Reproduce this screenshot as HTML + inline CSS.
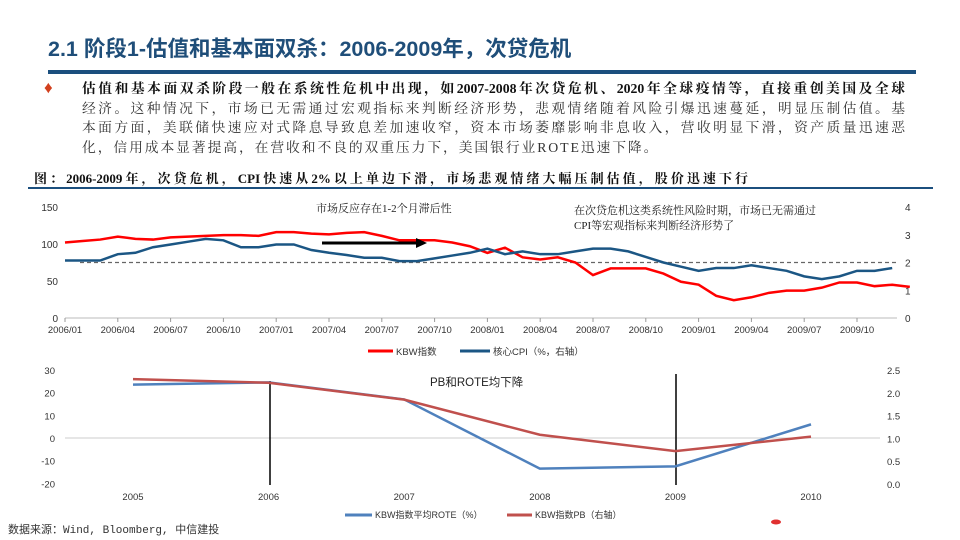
<!DOCTYPE html>
<html><head><meta charset="utf-8"><style>
body{margin:0;background:#fff;}
#page{position:relative;width:960px;height:540px;overflow:hidden;background:#fff;font-family:"Liberation Sans","Noto Sans CJK SC",sans-serif;}
.abs{position:absolute;white-space:nowrap;}
.pl{display:block;width:823px;text-align:justify;text-align-last:justify;height:19.5px;}
</style></head><body>
<div id="page">
<div class="abs" style="left:48px;top:32px;font-size:21.5px;font-weight:bold;color:#1F4E79;">2.1 阶段1-估值和基本面双杀：2006-2009年，次贷危机</div>
<div class="abs" style="left:48px;top:70px;width:868px;height:4px;background:#1B4F7E;"></div>
<div class="abs" style="left:44px;top:78px;font-size:17px;color:#D2401E;">♦</div>
<div class="abs" style="left:82px;top:79px;font-size:13.8px;line-height:19.5px;color:#333;font-family:'Liberation Serif','Noto Serif CJK SC',serif;">
<span class="pl" style="font-weight:bold;color:#111">估值和基本面双杀阶段一般在系统性危机中出现，如2007-2008年次贷危机、2020年全球疫情等，直接重创美国及全球</span><span class="pl">经济。这种情况下，市场已无需通过宏观指标来判断经济形势，悲观情绪随着风险引爆迅速蔓延，明显压制估值。基</span><span class="pl">本面方面，美联储快速应对式降息导致息差加速收窄，资本市场萎靡影响非息收入，营收明显下滑，资产质量迅速恶</span><span style="display:block;letter-spacing:1.9px">化，信用成本显著提高，在营收和不良的双重压力下，美国银行业ROTE迅速下降。</span></div>
<div class="abs" style="left:34px;top:168px;width:714px;text-align:justify;text-align-last:justify;font-size:13px;font-weight:bold;color:#111;font-family:'Liberation Serif','Noto Serif CJK SC',serif;">图：2006-2009年，次贷危机，CPI快速从2%以上单边下滑，市场悲观情绪大幅压制估值，股价迅速下行</div>
<div class="abs" style="left:28px;top:187px;width:905px;height:2px;background:#1B4F7E;"></div>
<div class="abs" style="left:8px;top:521px;font-size:11px;color:#333;font-family:'Liberation Mono','Noto Sans CJK SC',monospace;">数据来源：Wind, Bloomberg, 中信建投</div>
<svg id="chart" width="960" height="540" style="position:absolute;left:0;top:0"></svg>
</div>
<script>
const months=["2006/01","2006/04","2006/07","2006/10","2007/01","2007/04","2007/07","2007/10","2008/01","2008/04","2008/07","2008/10","2009/01","2009/04","2009/07","2009/10"];
const kbw=[102,104,106,110,107,106,109,110,111,112,112,111,116,116,114,113,115,116,111,105,105,105,102,97,88,95,82,79,82,75,58,67,67,67,60,49,45,30,24,28,34,37,37,41,48,48,43,45,42];
const cpi=[2.07,2.07,2.07,2.3,2.35,2.55,2.65,2.75,2.85,2.8,2.55,2.55,2.65,2.65,2.45,2.35,2.27,2.17,2.17,2.05,2.05,2.15,2.25,2.35,2.5,2.3,2.4,2.3,2.3,2.4,2.5,2.5,2.4,2.2,2.0,1.85,1.7,1.8,1.8,1.9,1.8,1.7,1.5,1.4,1.5,1.7,1.7,1.8];
const leftTicks=[0,50,100,150];
const rightTicks=[0,1,2,3,4];
const years=["2005","2006","2007","2008","2009","2010"];
const rote=[23.5,24.5,17,-13.5,-12.5,6];
const pb=[2.3,2.22,1.85,1.08,0.72,1.04];
const roteTicks=[-20,-10,0,10,20,30];
const pbTicks=["0.0","0.5","1.0","1.5","2.0","2.5"];
const svg=document.getElementById('chart');const NS='http://www.w3.org/2000/svg';
function mk(t,a,p){const e=document.createElementNS(NS,t);for(const k in a)e.setAttribute(k,a[k]);(p||svg).appendChild(e);return e;}
function txt(x,y,s,a){const e=mk('text',Object.assign({x:x,y:y,'font-size':10,fill:'#333','font-family':'Liberation Sans, Noto Sans CJK SC, sans-serif'},a||{}));e.textContent=s;return e;}
const tx=i=>65+i*17.6, ty=v=>318-v*0.74, tyr=v=>318-v*27.75;
mk('line',{x1:65,y1:318,x2:897,y2:318,stroke:'#bbb'});
months.forEach((m,i)=>{const x=tx(i*3);const l=mk('line',{x1:x,y1:318,x2:x,y2:322,stroke:'#999'});
const t=txt(x,333,m,{'text-anchor':'middle','font-size':9.5});});
leftTicks.forEach(v=>{const t=txt(58,ty(v)+4,String(v),{'text-anchor':'end'});});
rightTicks.forEach(v=>{const t=txt(905,tyr(v)+4,String(v));});
const dash=mk('line',{x1:80,y1:tyr(2),x2:897,y2:tyr(2),stroke:'#666','stroke-dasharray':'4,3','stroke-width':1.3});

const kl=mk('polyline',{points:kbw.map((v,i)=>tx(i)+','+ty(v)).join(' '),fill:'none',stroke:'#FF0000','stroke-width':2.5});

const cl=mk('polyline',{points:cpi.map((v,i)=>tx(i)+','+tyr(v)).join(' '),fill:'none',stroke:'#1B5684','stroke-width':2.5});

const ar=mk('line',{x1:322,y1:243,x2:418,y2:243,stroke:'#000','stroke-width':3});
mk('polygon',{points:'416,238 427,243 416,248',fill:'#000'});
const sf="Liberation Serif, Noto Serif CJK SC, serif";
let a1=txt(316,212,'市场反应存在1-2个月滞后性',{'font-size':11,fill:'#222','font-family':sf});
let a2=txt(574,214,'在次贷危机这类系统性风险时期，市场已无需通过',{'font-size':11,fill:'#222','font-family':sf});
let a3=txt(574,229,'CPI等宏观指标来判断经济形势了',{'font-size':11,fill:'#222','font-family':sf});
mk('line',{x1:368,y1:351,x2:393,y2:351,stroke:'#FF0000','stroke-width':3});
let l1=txt(396,355,'KBW指数',{'font-size':9.5});
mk('line',{x1:460,y1:351,x2:490,y2:351,stroke:'#1B5684','stroke-width':3});
let l2=txt(493,355,'核心CPI（%，右轴）',{'font-size':9.5});
const bx=i=>133+i*135.6, by=v=>438-v*2.27, byr=v=>484-v*45.6;
mk('line',{x1:65,y1:438,x2:880,y2:438,stroke:'#ccc'});
years.forEach((y,i)=>{const t=txt(bx(i),500,y,{'text-anchor':'middle','font-size':9.5});});
roteTicks.forEach(v=>{const t=txt(55,by(v)+4,String(v),{'text-anchor':'end','font-size':9.5});});
pbTicks.forEach(v=>{const t=txt(887,byr(parseFloat(v))+4,v,{'font-size':9.5});});
const v1=mk('line',{x1:270,y1:381,x2:270,y2:485,stroke:'#000','stroke-width':1.5});
const v2=mk('line',{x1:676,y1:374,x2:676,y2:485,stroke:'#000','stroke-width':1.5});
const rl=mk('polyline',{points:rote.map((v,i)=>bx(i)+','+by(v)).join(' '),fill:'none',stroke:'#4F81BD','stroke-width':2.5});

const pl=mk('polyline',{points:pb.map((v,i)=>bx(i)+','+byr(v)).join(' '),fill:'none',stroke:'#C0504D','stroke-width':2.5});

let a4=txt(430,386,'PB和ROTE均下降',{'font-size':11.5,fill:'#222'});
mk('line',{x1:345,y1:515,x2:372,y2:515,stroke:'#4F81BD','stroke-width':3});
let l3=txt(375,518,'KBW指数平均ROTE（%）',{'font-size':9});
mk('line',{x1:507,y1:515,x2:532,y2:515,stroke:'#C0504D','stroke-width':3});
let l4=txt(535,518,'KBW指数PB（右轴）',{'font-size':9});
mk('ellipse',{cx:776,cy:522,rx:5,ry:2.5,fill:'#E03030'});
</script>
</body></html>
